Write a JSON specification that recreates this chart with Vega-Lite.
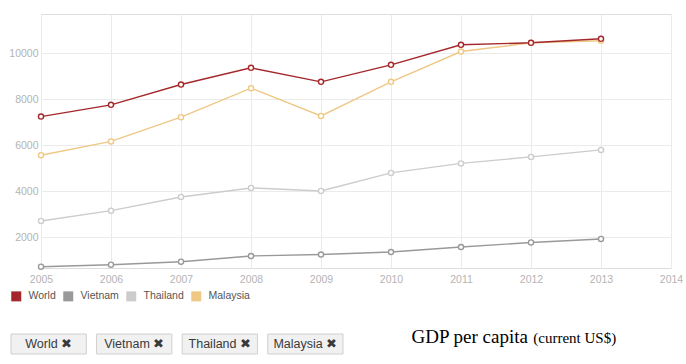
{
  "$schema": "https://vega.github.io/schema/vega-lite/v6.json",
  "padding": {"left": 8, "top": 13, "right": 10, "bottom": 0},
  "background": "white",
  "config": {
    "view": {"stroke": "#dddddd"},
    "font": "Liberation Sans"
  },
  "title": {
    "text": "(current US$)",
    "orient": "bottom",
    "anchor": "start",
    "font": "Liberation Serif",
    "fontSize": 15,
    "fontWeight": "normal",
    "color": "#000000",
    "dx": 525,
    "dy": -28
  },
  "columns": 1,
  "align": "none",
  "spacing": 42,
  "concat": [
    {
      "width": 630,
      "height": 254,
      "data": {
        "values": [
          {"year": 2005, "country": "Malaysia", "gdp": 5565},
          {"year": 2006, "country": "Malaysia", "gdp": 6165},
          {"year": 2007, "country": "Malaysia", "gdp": 7217},
          {"year": 2008, "country": "Malaysia", "gdp": 8478},
          {"year": 2009, "country": "Malaysia", "gdp": 7274},
          {"year": 2010, "country": "Malaysia", "gdp": 8752},
          {"year": 2011, "country": "Malaysia", "gdp": 10070},
          {"year": 2012, "country": "Malaysia", "gdp": 10448},
          {"year": 2013, "country": "Malaysia", "gdp": 10535},
          {"year": 2005, "country": "Thailand", "gdp": 2709},
          {"year": 2006, "country": "Thailand", "gdp": 3157},
          {"year": 2007, "country": "Thailand", "gdp": 3752},
          {"year": 2008, "country": "Thailand", "gdp": 4143},
          {"year": 2009, "country": "Thailand", "gdp": 4013},
          {"year": 2010, "country": "Thailand", "gdp": 4796},
          {"year": 2011, "country": "Thailand", "gdp": 5209},
          {"year": 2012, "country": "Thailand", "gdp": 5491},
          {"year": 2013, "country": "Thailand", "gdp": 5796},
          {"year": 2005, "country": "Vietnam", "gdp": 722},
          {"year": 2006, "country": "Vietnam", "gdp": 809},
          {"year": 2007, "country": "Vietnam", "gdp": 939},
          {"year": 2008, "country": "Vietnam", "gdp": 1187},
          {"year": 2009, "country": "Vietnam", "gdp": 1252},
          {"year": 2010, "country": "Vietnam", "gdp": 1361},
          {"year": 2011, "country": "Vietnam", "gdp": 1578},
          {"year": 2012, "country": "Vietnam", "gdp": 1774},
          {"year": 2013, "country": "Vietnam", "gdp": 1926},
          {"year": 2005, "country": "World", "gdp": 7243},
          {"year": 2006, "country": "World", "gdp": 7752},
          {"year": 2007, "country": "World", "gdp": 8635},
          {"year": 2008, "country": "World", "gdp": 9361},
          {"year": 2009, "country": "World", "gdp": 8752},
          {"year": 2010, "country": "World", "gdp": 9491},
          {"year": 2011, "country": "World", "gdp": 10361},
          {"year": 2012, "country": "World", "gdp": 10448},
          {"year": 2013, "country": "World", "gdp": 10622}
        ]
      },
      "mark": {
        "type": "line",
        "strokeWidth": 1.4,
        "point": {"filled": false, "fill": "white", "size": 26, "strokeWidth": 1.4}
      },
      "encoding": {
        "x": {
          "field": "year",
          "type": "quantitative",
          "scale": {"domain": [2005, 2014], "nice": false, "zero": false},
          "axis": {
            "values": [2005, 2006, 2007, 2008, 2009, 2010, 2011, 2012, 2013, 2014],
            "format": "d",
            "title": null,
            "ticks": false,
            "domain": false,
            "labelColor": "#b4b4b4",
            "labelFontSize": 10.5,
            "labelPadding": 6,
            "gridColor": "#ebebeb",
            "labelFlush": false
          }
        },
        "y": {
          "field": "gdp",
          "type": "quantitative",
          "scale": {"domain": [665, 11700], "nice": false, "zero": false},
          "axis": {
            "values": [2000, 4000, 6000, 8000, 10000],
            "format": "d",
            "title": null,
            "ticks": false,
            "domain": false,
            "labelColor": "#b4b4b4",
            "labelFontSize": 10.5,
            "labelPadding": 3,
            "gridColor": "#ebebeb"
          }
        },
        "color": {
          "field": "country",
          "type": "nominal",
          "scale": {
            "domain": ["World", "Vietnam", "Thailand", "Malaysia"],
            "range": ["#a4282b", "#999999", "#cccccc", "#eec884"]
          },
          "legend": {
            "orient": "none",
            "legendX": -30,
            "legendY": 277,
            "direction": "horizontal",
            "title": null,
            "symbolType": "square",
            "symbolSize": 100,
            "symbolStrokeWidth": 0,
            "labelFontSize": 10.5,
            "labelColor": "#555555",
            "labelOffset": 7,
            "columnPadding": 7,
            "encode": {
              "symbols": {"update": {"fill": {"scale": "color", "field": "value"}, "opacity": {"value": 1}}}
            }
          }
        }
      }
    },
    {
      "width": 332,
      "height": 20,
      "view": {"stroke": null},
      "title": {
        "text": "GDP per capita",
        "orient": "bottom",
        "anchor": "start",
        "font": "Liberation Serif",
        "fontSize": 19,
        "fontWeight": "normal",
        "color": "#000000",
        "dx": 401,
        "dy": -31
      },
      "data": {
        "values": [
          {"name": "World", "button": "World \u2716"},
          {"name": "Vietnam", "button": "Vietnam \u2716"},
          {"name": "Thailand", "button": "Thailand \u2716"},
          {"name": "Malaysia", "button": "Malaysia \u2716"}
        ]
      },
      "encoding": {
        "x": {
          "field": "name",
          "type": "nominal",
          "sort": null,
          "scale": {"paddingInner": 0.12, "paddingOuter": 0, "range": [-30, 302]},
          "axis": null
        }
      },
      "layer": [
        {"mark": {"type": "rect", "fill": "#f1f1f1", "stroke": "#d0d0d0", "strokeWidth": 1}},
        {"mark": {"type": "text", "fontSize": 12.5, "color": "#3a3a3a"}, "encoding": {"text": {"field": "button"}}}
      ]
    }
  ]
}
